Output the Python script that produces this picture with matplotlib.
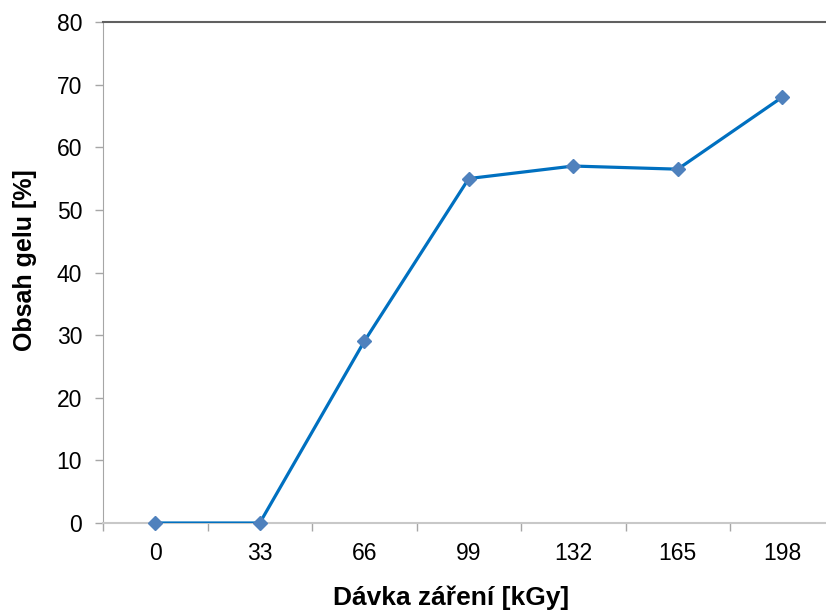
import matplotlib.pyplot as plt

plt.rcParams['font.family'] = ['Liberation Sans', 'DejaVu Sans']

# dávka záření a obsah gelu
davka = ['0', '33', '66', '99', '132', '165', '198']
obsah_gelu = [0, 0, 29, 55, 57, 56.5, 68]

fig = plt.figure(figsize=(8.26, 6.13), dpi=100)
# osa přesahuje pravý okraj obrázku (jako v originálu)
ax = fig.add_axes([103 / 826, 1 - 523 / 613, (834.5 - 103) / 826, (523 - 22) / 613])

x = list(range(len(davka)))
ax.plot(x, obsah_gelu, color='#0070C0', linewidth=2.3, zorder=3)
ax.plot(x, obsah_gelu, linestyle='none', marker='D', markersize=7,
        color='#4F81BD', zorder=4, clip_on=False)

ax.set_xlim(-0.5, len(davka) - 0.5)
ax.set_ylim(0, 80)
ax.set_yticks(range(0, 81, 10))
ax.set_xticks([i + 0.5 for i in range(-1, len(davka))], minor=False)
ax.set_xticklabels([])
ax.set_xticks(x, minor=True)
ax.set_xticklabels(davka, minor=True)

ax.tick_params(axis='x', which='major', length=6, color='#a6a6a6', width=1)
ax.tick_params(axis='x', which='minor', length=0, labelsize=16.5, pad=14)
ax.tick_params(axis='y', length=6, color='#a6a6a6', width=1, labelsize=16.5, pad=9)

ax.spines['right'].set_visible(False)
ax.spines['left'].set_color('#a6a6a6')
ax.spines['bottom'].set_color('#c8c8c8')
ax.spines['bottom'].set_linewidth(1.5)
ax.spines['top'].set_color('#606060')
ax.spines['top'].set_linewidth(1.5)

ax.set_xlabel('Dávka záření [kGy]', fontsize=19, fontweight='bold', va='center')
ax.set_ylabel('Obsah gelu [%]', fontsize=18, fontweight='bold', va='center')
ax.xaxis.set_label_coords(0.476, -0.15)
ax.yaxis.set_label_coords(-0.107, 0.525)

fig.savefig('out.png', dpi=100)
